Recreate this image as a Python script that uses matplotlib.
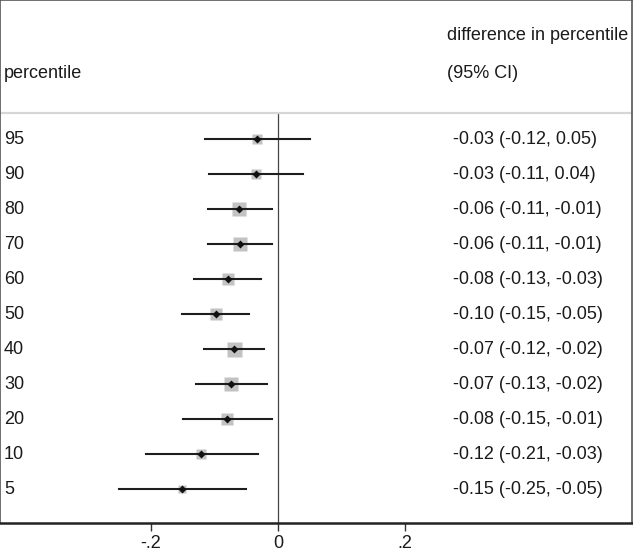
import numpy as np
import matplotlib.pyplot as plt

plt.rcParams['font.family'] = ['Liberation Sans', 'DejaVu Sans']

# values, top row first
percentiles = ['95', '90', '80', '70', '60', '50', '40', '30', '20', '10', '5']
estimate = [-0.033, -0.035, -0.061, -0.060, -0.079, -0.098, -0.069, -0.074, -0.080, -0.121, -0.151]
ci_low = [-0.115, -0.109, -0.111, -0.110, -0.133, -0.151, -0.116, -0.129, -0.150, -0.208, -0.250]
ci_high = [0.050, 0.040, -0.009, -0.010, -0.026, -0.046, -0.022, -0.018, -0.009, -0.032, -0.051]
weights = [6.2, 6.2, 12.2, 12.2, 10.5, 10.5, 14.0, 12.2, 7.6, 5.1, 3.1]
ci_text = ['-0.03 (-0.12, 0.05)', '-0.03 (-0.11, 0.04)', '-0.06 (-0.11, -0.01)',
           '-0.06 (-0.11, -0.01)', '-0.08 (-0.13, -0.03)', '-0.10 (-0.15, -0.05)',
           '-0.07 (-0.12, -0.02)', '-0.07 (-0.13, -0.02)', '-0.08 (-0.15, -0.01)',
           '-0.12 (-0.21, -0.03)', '-0.15 (-0.25, -0.05)']
xticks = [-0.2, 0, 0.2]
xtick_labels = ['-.2', '0', '.2']

n = len(percentiles)
ypos = np.arange(n, 0, -1)

fig = plt.figure(figsize=(6.33, 5.57), dpi=100)
ax = fig.add_axes([0.0, 34 / 557, 632 / 633, 523 / 557])
ax.set_xlim(-0.4378, 0.5575)
ax.set_ylim(0.037, 14.98)

# zero line
ax.plot([0, 0], [0.037, 11.75], color='#444444', lw=0.9, zorder=1)
# header separator
ax.axhline(11.75, color='#d6d6d6', lw=1.6, zorder=1)

for i in range(n):
    ms = 0.72 * 15 * np.sqrt(weights[i] / 14.0)
    ax.plot(estimate[i], ypos[i], marker='s', ms=ms, color='#c2c2c2', mec='none', zorder=2)
    ax.plot([ci_low[i], ci_high[i]], [ypos[i], ypos[i]], color='#1e1e1e', lw=1.5, zorder=3)
    ax.plot(estimate[i], ypos[i], marker='D', ms=4.2, color='#111111', mec='none', zorder=4)
    ax.text(-0.4315, ypos[i], percentiles[i], fontsize=13, va='center', ha='left', color='#1a1a1a')
    ax.text(0.2751, ypos[i], ci_text[i], fontsize=13, va='center', ha='left', color='#1a1a1a')

ax.text(-0.4315, 12.87, 'percentile', fontsize=13, va='center', ha='left', color='#1a1a1a')
ax.text(0.2666, 13.97, 'difference in percentile', fontsize=13, va='center', ha='left', color='#1a1a1a')
ax.text(0.2666, 12.87, '(95% CI)', fontsize=13, va='center', ha='left', color='#1a1a1a')

ax.set_xticks(xticks)
ax.set_xticklabels(xtick_labels, fontsize=13, color='#1a1a1a')
ax.set_yticks([])
ax.tick_params(axis='x', length=6, width=1, color='#333333', pad=3)

for side in ['left', 'top', 'right']:
    ax.spines[side].set_color('#555555')
    ax.spines[side].set_linewidth(1.2)
ax.spines['bottom'].set_color('#222222')
ax.spines['bottom'].set_linewidth(1.8)

fig.savefig('out.png', dpi=100)
